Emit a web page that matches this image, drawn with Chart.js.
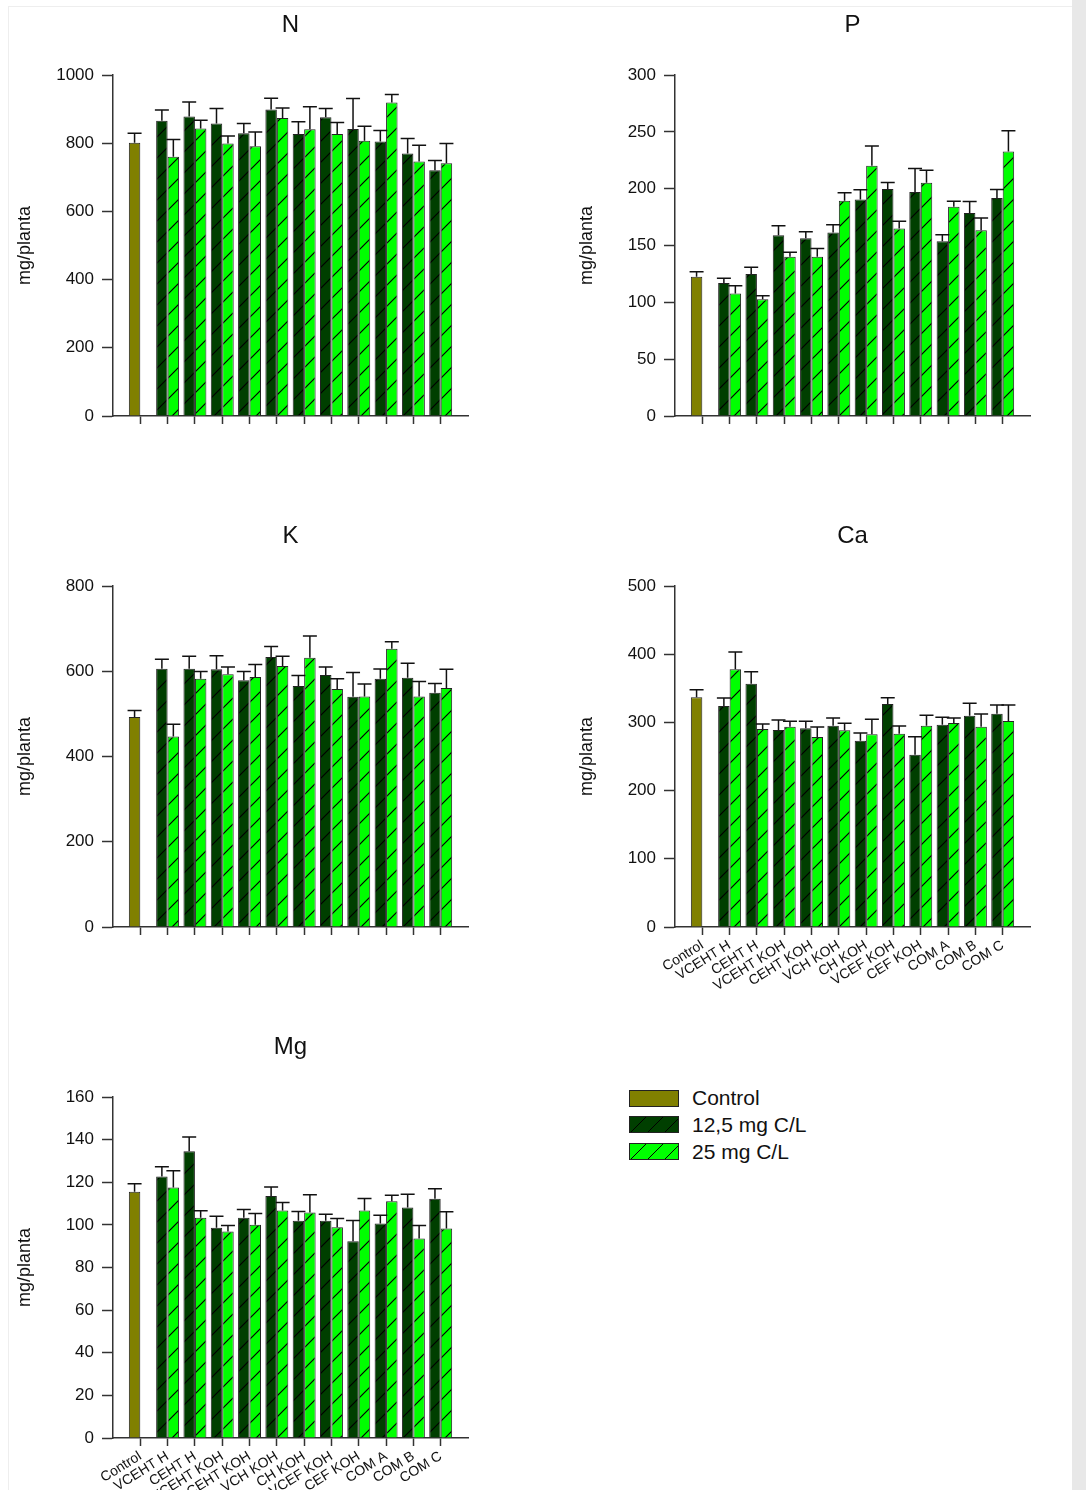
<!DOCTYPE html>
<html>
<head>
<meta charset="utf-8">
<script src="https://cdn.jsdelivr.net/npm/chart.js@4.4.1/dist/chart.umd.min.js"></script>
<style>
    html, body { margin: 0; padding: 0; overflow: hidden; background: #fff; }
    #page { position: relative; width: 1086px; height: 1490px; overflow: hidden; font-family: "Liberation Sans", Arial, sans-serif; }
    #frame { position: absolute; left: 8px; top: 6px; width: 1064px; height: 1500px; border-left: 1px solid #eee; border-top: 1px solid #eee; }
    #bar-right { position: absolute; left: 1072px; top: 0; width: 14px; height: 1490px; background: #e8e8e8; }
    canvas { position: absolute; }
    .sw { position: absolute; left: 629px; width: 50px; height: 17px; box-sizing: border-box; border: 1px solid #222; }
    .lt { position: absolute; left: 692px; height: 24px; line-height: 24px; font-size: 21px; color: #111; white-space: nowrap; }
</style>
</head>
<body>
<div id="page">
    <div id="frame"></div>
    <div id="bar-right"></div>
    <canvas id="chartN" width="480" height="440" style="left:0;top:0"></canvas>
    <canvas id="chartP" width="480" height="440" style="left:562px;top:0"></canvas>
    <canvas id="chartK" width="480" height="440" style="left:0;top:511px"></canvas>
    <canvas id="chartCa" width="480" height="506" style="left:562px;top:511px"></canvas>
    <canvas id="chartMg" width="480" height="506" style="left:0;top:1022px"></canvas>

    <div class="sw" style="top:1090px;background:#808000"></div>
    <div class="lt" style="top:1086px">Control</div>
    <div class="sw" style="top:1116px;background-color:#003f00;background-image:repeating-linear-gradient(135deg, transparent 0 11px, #000 11px 12px)"></div>
    <div class="lt" style="top:1113px">12,5 mg C/L</div>
    <div class="sw" style="top:1143px;background-color:#00ff00;background-image:repeating-linear-gradient(135deg, transparent 0 11px, #000 11px 12px)"></div>
    <div class="lt" style="top:1140px">25 mg C/L</div>
</div>
<script>
var categories = ["Control", "VCEHT H", "CEHT H", "VCEHT KOH", "CEHT KOH", "VCH KOH", "CH KOH", "VCEF KOH", "CEF KOH", "COM A", "COM B", "COM C"];
var seriesNames = ["Control", "12,5 mg C/L", "25 mg C/L"];

// N
var nControl = [801], nControlSd = [28];
var n125 = [866, 878, 858, 829, 899, 827, 876, 842, 805, 770, 721];
var n125Sd = [31, 43, 44, 29, 33, 36, 26, 89, 32, 44, 28];
var n25 = [760, 843, 799, 791, 874, 841, 827, 807, 919, 746, 741];
var n25Sd = [51, 24, 22, 42, 29, 66, 34, 43, 24, 48, 58];

// P
var pControl = [122.4], pControlSd = [4.4];
var p125 = [117.1, 125, 159.1, 156.4, 161.4, 190.5, 199.6, 197, 153.8, 178.5, 191.7];
var p125Sd = [4.1, 5.9, 8.2, 5.6, 6.8, 8.5, 5.9, 20.8, 5.6, 10.2, 7.6];
var p25 = [107.7, 102.7, 140, 140, 189.3, 220.1, 165, 205.2, 184, 163.5, 232.8];
var p25Sd = [6.8, 3, 4.1, 7.3, 7.1, 17.4, 6.4, 11.1, 5, 10.6, 18.2];

// K
var kControl = [492.6], kControlSd = [15.6];
var k125 = [606, 606, 604.4, 578.6, 633.3, 565.3, 591.1, 540.3, 582.5, 584.8, 549.6];
var k125Sd = [22, 29, 32, 21.1, 25, 25, 18.8, 57, 22.7, 33.7, 21.9];
var k25 = [447.2, 582.5, 592.7, 586.4, 612.2, 631.7, 558.2, 541, 652.9, 541, 560.6];
var k25Sd = [28.2, 17.2, 17.2, 29.7, 22.7, 50.9, 24.3, 29, 16.4, 35.2, 43.8];

// Ca
var caControl = [336.8], caControlSd = [11.2];
var ca125 = [324, 356.8, 288.9, 291.3, 295.2, 273.2, 327, 252.7, 296.7, 309.9, 312.8];
var ca125Sd = [11.8, 17.6, 14.6, 10.3, 11.3, 11.3, 9.3, 26.4, 10.7, 18.1, 12.7];
var ca25 = [377.8, 290.3, 293.7, 278.6, 288.4, 282.5, 283.5, 295.2, 299.1, 293.7, 302];
var ca25Sd = [25.4, 7.4, 7.9, 14.7, 10.2, 22, 11.2, 15.2, 7.4, 18.6, 23.5];

// Mg
var mgControl = [115.5], mgControlSd = [3.8];
var mg125 = [122.7, 134.5, 98.7, 103.4, 113.6, 101.9, 101.9, 92.3, 100.6, 108.1, 112.2];
var mg125Sd = [4.6, 6.7, 5.4, 3.8, 4.2, 4.4, 3.1, 9.7, 3.9, 6.3, 4.7];
var mg25 = [117.5, 103.4, 96.9, 100.1, 106.7, 105.8, 98.9, 106.7, 111.1, 93.6, 98.3];
var mg25Sd = [7.9, 3.2, 2.8, 5.2, 3.8, 8.3, 4.1, 5.7, 2.8, 6.1, 7.8];

var FONT = "'Liberation Sans', Arial, sans-serif";
var INK = '#111';
var AXIS = '#333';

function hatch(color) {
    var c = document.createElement('canvas');
    c.width = 21;
    c.height = 21;
    var g = c.getContext('2d');
    g.fillStyle = color;
    g.fillRect(0, 0, 21, 21);
    g.strokeStyle = '#000';
    g.lineWidth = 1.2;
    g.beginPath();
    g.moveTo(0, 21); g.lineTo(21, 0);
    g.moveTo(-5, 5); g.lineTo(5, -5);
    g.moveTo(16, 26); g.lineTo(26, 16);
    g.stroke();
    return g.createPattern(c, 'repeat');
}

// padded with an empty slot on both ends so ticks sit like the original axis
function pad(head, values) {
    return [null].concat(head, values, [null]);
}

var errorBars = {
    id : 'errorBars',
    afterDatasetsDraw : function (chart) {
        var ctx = chart.ctx, yScale = chart.scales.y;
        chart.data.datasets.forEach(function (ds, i) {
            var meta = chart.getDatasetMeta(i);
            meta.data.forEach(function (bar, j) {
                var v = ds.data[j], e = ds.errors[j];
                if (v == null || e == null) return;
                var top = yScale.getPixelForValue(v + e);
                ctx.save();
                ctx.strokeStyle = INK;
                ctx.lineWidth = 1.5;
                ctx.beginPath();
                ctx.moveTo(bar.x, bar.y);
                ctx.lineTo(bar.x, top);
                ctx.moveTo(bar.x - 7, top);
                ctx.lineTo(bar.x + 7, top);
                ctx.stroke();
                ctx.restore();
            });
        });
    }
};

function panel(id, title, control, controlSd, d125, d125Sd, d25, d25Sd, max, step, showLabels) {
    var labels = [''].concat(categories, ['']);
    var last = labels.length - 1;
    var dataset = [
        {
            label : seriesNames[0],
            data : pad(control, new Array(11).fill(null)),
            errors : pad(controlSd, new Array(11).fill(null)),
            backgroundColor : '#808000',
            stack : 'a'
        }, {
            label : seriesNames[1],
            data : pad([null], d125),
            errors : pad([null], d125Sd),
            backgroundColor : hatch('#003f00'),
            stack : 'a'
        }, {
            label : seriesNames[2],
            data : pad([null], d25),
            errors : pad([null], d25Sd),
            backgroundColor : hatch('#00ff00'),
            stack : 'b'
        }
    ];
    dataset.forEach(function (d) {
        d.borderColor = '#222';
        d.borderWidth = 1;
        d.categoryPercentage = 0.84;
        d.barPercentage = 1.0;
    });
    var options = {
        responsive : false,
        animation : false,
        layout : {padding : {left : 0, right : 12, top : 0, bottom : 0}},
        plugins : {
            legend : {display : false},
            tooltip : {enabled : false},
            title : {
                display : true,
                text : title,
                fullSize : false,
                color : INK,
                font : {family : FONT, size : 24, weight : 'normal'},
                padding : {top : 11, bottom : 35.2}
            }
        },
        scales : {
            x : {
                offset : false,
                grid : {
                    display : true,
                    offset : false,
                    drawOnChartArea : false,
                    drawTicks : true,
                    tickLength : 8,
                    tickWidth : 1.5,
                    tickColor : function (c) {
                        return (c.index === 0 || c.index === last) ? 'rgba(0,0,0,0)' : AXIS;
                    }
                },
                border : {display : true, color : AXIS, width : 1.5},
                ticks : {
                    display : showLabels,
                    autoSkip : false,
                    maxRotation : 32,
                    minRotation : 32,
                    padding : 2,
                    color : INK,
                    font : {family : FONT, size : 14}
                },
                afterFit : function (s) {
                    s.height = showLabels ? 90 : 24;
                }
            },
            y : {
                min : 0,
                max : max,
                stacked : false,
                ticks : {
                    stepSize : step,
                    padding : 8,
                    color : INK,
                    font : {family : FONT, size : 17},
                    callback : function (v) {
                        return String(v);
                    }
                },
                grid : {
                    drawOnChartArea : false,
                    tickLength : 11,
                    tickWidth : 1.5,
                    tickColor : AXIS
                },
                border : {display : true, color : AXIS, width : 1.5},
                title : {
                    display : true,
                    text : 'mg/planta',
                    color : INK,
                    font : {family : FONT, size : 18},
                    padding : {top : 14, bottom : 0}
                },
                afterFit : function (s) {
                    s.width = 113;
                }
            }
        }
    };
    new Chart(document.getElementById(id).getContext('2d'), {
        type : 'bar',
        data : {labels : labels, datasets : dataset},
        options : options,
        plugins : [errorBars]
    });
}

panel('chartN', 'N', nControl, nControlSd, n125, n125Sd, n25, n25Sd, 1000, 200, false);
panel('chartP', 'P', pControl, pControlSd, p125, p125Sd, p25, p25Sd, 300, 50, false);
panel('chartK', 'K', kControl, kControlSd, k125, k125Sd, k25, k25Sd, 800, 200, false);
panel('chartCa', 'Ca', caControl, caControlSd, ca125, ca125Sd, ca25, ca25Sd, 500, 100, true);
panel('chartMg', 'Mg', mgControl, mgControlSd, mg125, mg125Sd, mg25, mg25Sd, 160, 20, true);
</script>
</body>
</html>
